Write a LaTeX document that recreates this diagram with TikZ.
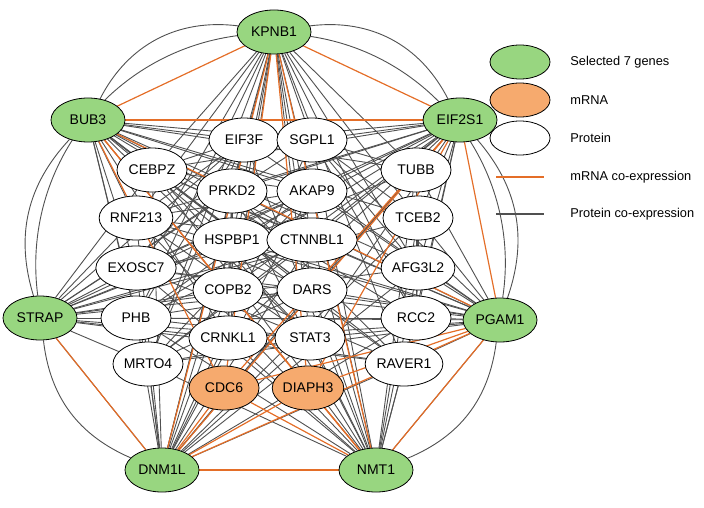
\documentclass[tikz,border=0pt]{standalone}
\usepackage{fontspec}
\setmainfont{Liberation Sans}
\usetikzlibrary{backgrounds,shapes.geometric}
\definecolor{genegreen}{RGB}{152,214,128}
\definecolor{mrnaorange}{RGB}{246,170,110}
\definecolor{coexorange}{RGB}{228,110,40}
\definecolor{coexgray}{RGB}{80,80,80}
\tikzset{
    % node styles
    gene node/.style={ellipse, draw=black, fill=genegreen, minimum width=37pt, minimum height=22pt, inner sep=0pt, font=\fontsize{7}{8}\selectfont},
    mrna node/.style={ellipse, draw=black, fill=mrnaorange, minimum width=35pt, minimum height=22pt, inner sep=0pt, font=\fontsize{7}{8}\selectfont},
    protein node/.style={ellipse, draw=black, fill=white, minimum width=35pt, minimum height=22pt, inner sep=0pt, font=\fontsize{7}{8}\selectfont},
    % edge styles
    protein edge/.style={coexgray, line width=0.45pt},
    mrna edge/.style={coexorange, line width=0.6pt},
    legend text/.style={anchor=west, inner sep=0pt, font=\fontsize{6.4}{7}\selectfont}
}
\begin{document}
\begin{tikzpicture}[x=0.5pt, y=-0.5pt]
    \useasboundingbox (0,0) rectangle (704,507);

    % selected genes
    \foreach \name/\x/\y in {KPNB1/274/32, BUB3/88/120, EIF2S1/460/120, STRAP/40/318,
                             PGAM1/500/320, DNM1L/162/470, NMT1/376/470} {
        \node[gene node] (\name) at (\x,\y) {\name};
    }

    % proteins
    \foreach \i/\name/\x/\y in {1/EIF3F/244/140, 2/SGPL1/312/140, 3/CEBPZ/152/170, 4/PRKD2/232/191,
                                5/AKAP9/312/191, 6/TUBB/416/170, 7/RNF213/136/218, 8/HSPBP1/232/240,
                                9/CTNNBL1/312/240, 10/TCEB2/418/218, 11/EXOSC7/136/268, 12/COPB2/228/290,
                                13/DARS/312/290, 14/AFG3L2/418/268, 15/PHB/136/318, 16/CRNKL1/228/338,
                                17/STAT3/310/338, 18/RCC2/416/318, 19/MRTO4/148/364, 20/RAVER1/404/364} {
        \node[protein node] (p\i) at (\x,\y) {\name};
    }

    % mRNA
    \node[mrna node] (p21) at (224,388) {CDC6};
    \node[mrna node] (p22) at (308,388) {DIAPH3};

    \begin{scope}[on background layer]
        % protein co-expression
        \foreach \g in {KPNB1,BUB3,EIF2S1,STRAP,PGAM1,DNM1L,NMT1} {
            \foreach \i in {1,...,20} {
                \draw[protein edge] (\g) -- (p\i);
            }
        }
        \foreach \i in {1,...,20} {
            \foreach \j in {1,...,20} {
                \pgfmathtruncatemacro{\ok}{(\j>\i) && (mod(\i*7+\j*3,4)==0)}
                \ifnum\ok=1 \draw[protein edge] (p\i) -- (p\j); \fi
            }
        }
        \draw[protein edge] (BUB3) to[bend left=35] (KPNB1);
        \draw[protein edge] (KPNB1) to[bend left=35] (EIF2S1);
        \draw[protein edge] (EIF2S1) to[bend left=30] (PGAM1);
        \draw[protein edge] (PGAM1) to[bend left=30] (NMT1);
        \draw[protein edge] (DNM1L) to[bend left=30] (STRAP);
        \draw[protein edge] (STRAP) to[bend left=30] (BUB3);
        \draw[protein edge] (STRAP) to[bend left=45] (KPNB1);
        \draw[protein edge] (KPNB1) to[bend left=45] (PGAM1);
        \draw[protein edge] (STRAP) -- (DNM1L);
        \draw[protein edge] (PGAM1) -- (NMT1);

        % mRNA co-expression
        \foreach \a/\b in {KPNB1/BUB3, KPNB1/EIF2S1, BUB3/EIF2S1, EIF2S1/PGAM1, PGAM1/NMT1,
                           NMT1/DNM1L, DNM1L/STRAP, BUB3/NMT1, EIF2S1/DNM1L, KPNB1/NMT1,
                           KPNB1/DNM1L, BUB3/PGAM1, PGAM1/DNM1L} {
            \draw[mrna edge] (\a) -- (\b);
        }
        \foreach \g in {KPNB1,BUB3,EIF2S1,PGAM1,DNM1L,NMT1} {
            \draw[mrna edge] (\g) -- (p21);
            \draw[mrna edge] (\g) -- (p22);
        }
    \end{scope}

    % legend
    \node[gene node, minimum width=30pt, minimum height=17pt] (legGene) at (520,62) {};
    \node[legend text] at (570,62) {Selected 7 genes};
    \node[mrna node, minimum width=30pt, minimum height=17pt] (legMrna) at (520,100) {};
    \node[legend text] at (570,100) {mRNA};
    \node[protein node, minimum width=30pt, minimum height=17pt] (legProt) at (520,138) {};
    \node[legend text] at (570,138) {Protein};
    \coordinate (mA) at (496,177);
    \coordinate (mB) at (544,177);
    \draw[mrna edge, line width=1pt] (mA) -- (mB);
    \node[legend text] at (570,177) {mRNA co-expression};
    \coordinate (gA) at (496,214);
    \coordinate (gB) at (544,214);
    \draw[protein edge, line width=1pt] (gA) -- (gB);
    \node[legend text] at (570,214) {Protein co-expression};
\end{tikzpicture}
\end{document}
